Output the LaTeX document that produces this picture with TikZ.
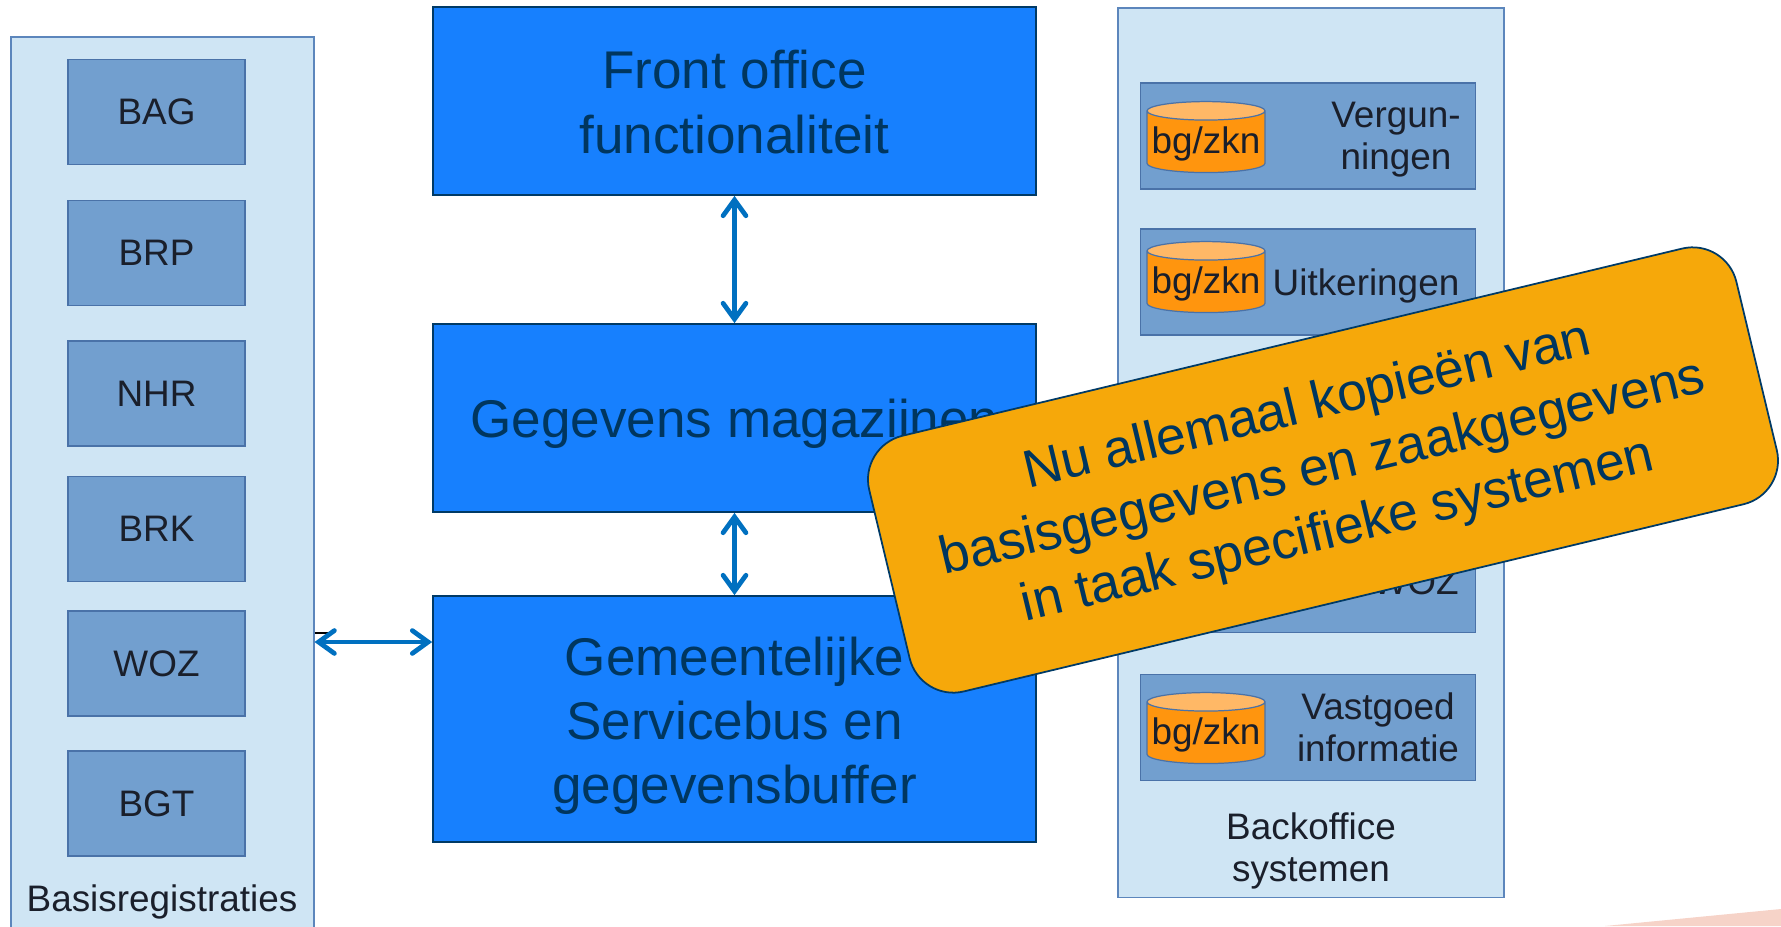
\documentclass[tikz,border=0pt]{standalone}
\usepackage{fontspec}
\setmainfont{Liberation Sans}
\usetikzlibrary{arrows.meta,shapes.geometric}
\definecolor{blockblue}{HTML}{1780FE}
\definecolor{blockline}{HTML}{003A66}
\definecolor{blocktext}{HTML}{00365F}
\definecolor{panelblue}{HTML}{CFE5F4}
\definecolor{panelline}{HTML}{5C86BC}
\definecolor{regblue}{HTML}{729FCF}
\definecolor{regline}{HTML}{4A72A8}
\definecolor{linkblue}{HTML}{0070C0}
\definecolor{cylbody}{HTML}{FF950E}
\definecolor{cyltop}{HTML}{FFB866}
\definecolor{noteorange}{HTML}{F6A80A}
\definecolor{sliver}{HTML}{F6D3C8}
\definecolor{labeltext}{HTML}{1A1F2B}
\tikzset{
  block/.style={draw=blockline,line width=1pt,fill=blockblue,
    minimum width=12.06cm,inner sep=0pt},
  blocklabel/.style={text=blocktext,align=center,inner sep=0pt,
    font=\fontsize{30.2}{36.5}\selectfont},
  panel/.style={draw=panelline,line width=.9pt,fill=panelblue,inner sep=0pt},
  regbox/.style={draw=regline,line width=.9pt,fill=regblue,inner sep=0pt,
    minimum width=3.54cm,minimum height=2.1cm,text=labeltext,
    font=\fontsize{21}{24}\selectfont},
  sysbox/.style={draw=regline,line width=.9pt,fill=regblue,inner sep=0pt,
    minimum width=6.7cm,minimum height=2.12cm},
  store/.style={cylinder,shape border rotate=90,aspect=.17,draw=regline,line width=.7pt,
    cylinder uses custom fill,cylinder body fill=cylbody,cylinder end fill=cyltop,
    minimum width=2.36cm,minimum height=1.42cm,inner sep=0pt,text=labeltext,
    text height=18pt,text depth=4.4pt,font=\fontsize{21}{24}\selectfont},
  syslabel/.style={align=center,inner sep=0pt,text=labeltext,
    font=\fontsize{21}{24}\selectfont},
  link/.style={draw=linkblue,line width=2.7pt,
    {Straight Barb[length=9pt,width=13pt,line cap=round]}-{Straight Barb[length=9pt,width=13pt,line cap=round]}},
}
\begin{document}
\begin{tikzpicture}[x=.02cm,y=-.02cm]
    \clip (0,0) rectangle (1781,926);
    \fill[sliver] (1605,926)--(1781,909)--(1781,926)--cycle;
    % left column
    \node[panel,anchor=north west,minimum width=6.06cm,minimum height=19cm] (reg) at (10,36) {};
    \foreach \name/\ypos in {BAG/112,BRP/253,NHR/393.5,BRK/529,WOZ/663.5,BGT/803.5}
      \node[regbox] (\name) at (156.5,\ypos) {\name};
    \node[syslabel] (regtitle) at (162,902) {Basisregistraties};
    % middle column
    \node[block,minimum height=3.76cm] (front) at (734.5,101) {};
    \node[block,minimum height=3.76cm] (magazijn) at (734.5,418) {};
    \node[block,minimum height=4.92cm] (bus) at (734.5,719) {};
    \node[blocklabel] (frontlabel) at (734.5,102) {Front office\\functionaliteit};
    \node[blocklabel] (magazijnlabel) at (734.5,424) {Gegevens magazijnen};
    \node[blocklabel] (buslabel) at (734.5,726) {Gemeentelijke\\Servicebus en\\gegevensbuffer};
    \draw[link] (front) -- (magazijn);
    \draw[link] (magazijn) -- (bus);
    \coordinate (port) at (370,642);
    \coordinate (stub) at (328,633);
    \draw[black,line width=.7pt] (reg.east |- stub) -- (stub);
    \draw[link] (reg.east |- port) -- (bus.west |- port);
    % right column
    \node[panel,anchor=north west,minimum width=7.72cm,minimum height=17.8cm] (back) at (1117,7) {};
    \foreach \name/\ypos in {verg/136,uitk/282,woz/579.5,vast/727.5}
      \node[sysbox] (\name) at (1308,\ypos) {};
    \foreach \name/\ypos in {verg/142,uitk/282,vast/733}
      \node[store] (\name cyl) at (1206,\ypos) {bg/zkn};
    \node[syslabel] (verglabel) at (1396,140) {Vergun-\\ningen};
    \node[syslabel] (uitklabel) at (1366,286) {Uitkeringen};
    \node[syslabel,anchor=east] (wozlabel) at (1459,582) {WOZ};
    \node[syslabel] (vastlabel) at (1378,727) {Vastgoed\\informatie};
    \node[syslabel] (backtitle) at (1311,851) {Backoffice\\systemen};
    % note on top
    \node[draw=blockline,line width=1pt,fill=noteorange,rounded corners=.9cm,rotate=13.5,
      minimum width=17.84cm,minimum height=5.26cm,align=center,inner sep=0pt,text=blocktext,
      font=\fontsize{30.2}{36.5}\selectfont] (note) at (1323,470)
      {Nu allemaal kopieën van\\basisgegevens en zaakgegevens\\in taak specifieke systemen};
  \end{tikzpicture}
\end{document}
